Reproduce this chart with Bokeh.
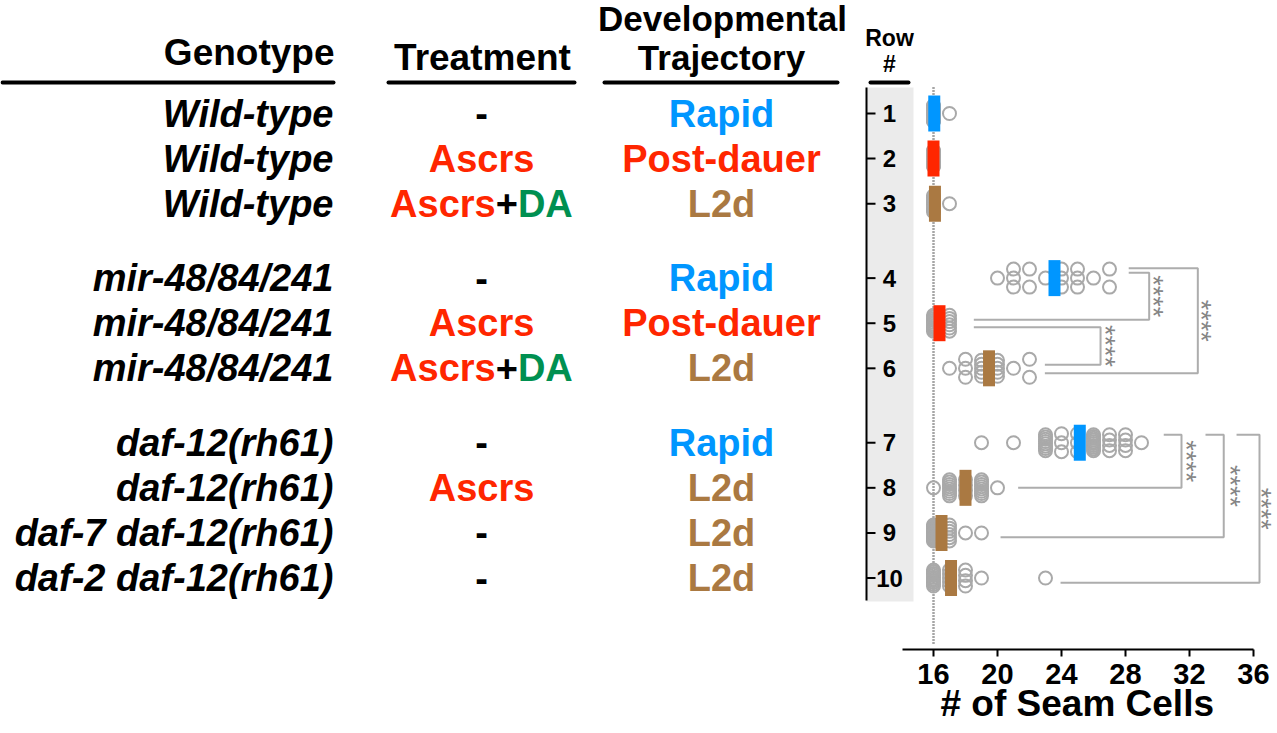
import numpy as np
from bokeh.plotting import figure
from bokeh.models import Range1d, FixedTicker, Title
from bokeh.core.properties import value
from bokeh.embed import file_html
from bokeh.resources import INLINE

# ---------------- data ----------------
genotypes = ["Wild-type", "Wild-type", "Wild-type",
             "mir-48/84/241", "mir-48/84/241", "mir-48/84/241",
             "daf-12(rh61)", "daf-12(rh61)", "daf-7 daf-12(rh61)", "daf-2 daf-12(rh61)"]
treatments = ["-", "Ascrs", "Ascrs+DA", "-", "Ascrs", "Ascrs+DA", "-", "Ascrs", "-", "-"]
trajectories = ["Rapid", "Post-dauer", "L2d", "Rapid", "Post-dauer", "L2d",
                "Rapid", "L2d", "L2d", "L2d"]
row_labels = ["1", "2", "3", "4", "5", "6", "7", "8", "9", "10"]
row_group = [0, 0, 0, 1, 1, 1, 2, 2, 2, 2]

seam_cells = [
    [16, 16, 16, 16, 16, 16, 16, 16, 16, 16, 16, 16, 16, 16, 16, 16, 16, 16, 16, 16, 17],
    [16, 16, 16, 16, 16, 16, 16, 16, 16, 16, 16, 16, 16, 16, 16, 16, 16, 16, 16, 16],
    [16, 16, 16, 16, 16, 16, 16, 16, 16, 16, 17],
    [20, 21, 21, 21, 22, 22, 23, 24, 24, 24, 25, 25, 25, 26, 27, 27],
    [16, 16, 16, 16, 16, 16, 16, 16, 16, 16, 17, 17, 17, 17, 17, 17],
    [17, 18, 18, 18, 19, 19, 19, 19, 19, 20, 20, 20, 20, 20, 21, 22, 22],
    [19, 21, 23, 23, 23, 23, 23, 23, 23, 23, 24, 24, 24, 25, 25, 25,
     26, 26, 26, 26, 26, 26, 26, 26, 26, 26, 27, 27, 27, 27, 28, 28, 28, 28, 29],
    [16, 17, 17, 17, 17, 17, 17, 17, 17, 18, 18, 18, 18, 19, 19, 19, 19, 19, 19, 19, 19, 20],
    [16, 16, 16, 16, 16, 16, 16, 16, 16, 16, 16, 16, 16, 16, 17, 17, 17, 17, 17, 17, 18, 19],
    [16, 16, 16, 16, 16, 16, 16, 16, 16, 16, 17, 17, 17, 17, 17, 18, 18, 18, 18, 19, 23],
]

comparisons = [(4, 5), (5, 6), (4, 6), (7, 8), (7, 9), (7, 10)]
significance = ["****", "****", "****", "****", "****", "****"]

x_ticks = [16, 20, 24, 28, 32, 36]
x_title = "# of Seam Cells"

# ---------------- styles / layout ----------------
FONT = "Liberation Sans"
traj_color = {"Rapid": "#0096FF", "Post-dauer": "#FF2600", "L2d": "#AA7942"}
RED, GREEN = "#FF2600", "#009051"
GRAY = "#A9A9A9"

W, H = 1275, 731
FRAME_B = 649                      # canvas y of the x axis
MB = H - FRAME_B
PX_PER_X = 16.0                    # px per seam cell
X16 = 933.0
X0 = 16 - X16 / PX_PER_X
X1 = 16 + (W - X16) / PX_PER_X
ROW1_Y = 113.0
PX = 45.1                          # px per row unit
Y_TOP = 1 - ROW1_Y / PX
Y_BOT = 1 + (FRAME_B - ROW1_Y) / PX
GROUP_GAP = 0.65

ypos = [i + 1 + GROUP_GAP * g for i, g in enumerate(row_group)]

p = figure(width=W, height=H, x_range=Range1d(X0, X1), y_range=Range1d(Y_BOT, Y_TOP),
           output_backend="svg", toolbar_location=None, y_axis_location=None,
           min_border_left=0, min_border_right=0, min_border_top=0, min_border_bottom=MB)
p.extra_x_ranges = {"page": Range1d(0, W)}
p.extra_y_ranges = {"page": Range1d(FRAME_B, 0)}
p.grid.visible = False
p.outline_line_color = None

# x axis
ax = p.xaxis[0]
ax.bounds = (16 - (933 - 902) / PX_PER_X, 36)
ax.ticker = FixedTicker(ticks=x_ticks)
ax.axis_line_width = 2
ax.axis_line_color = "black"
ax.major_tick_line_width = 2
ax.major_tick_line_color = "black"
ax.major_tick_out = 7
ax.major_tick_in = 0
ax.minor_tick_out = 0
ax.minor_tick_in = 0
ax.major_label_text_font = FONT
ax.major_label_text_font_size = "29px"
ax.major_label_text_font_style = "bold"
ax.major_label_text_color = "black"
ax.major_label_standoff = 7

# axis title, placed under the bounded axis
p.add_layout(Title(text=x_title, align="left", offset=940, standoff=-12,
                   text_font=FONT, text_font_size="37px", text_font_style="bold",
                   text_color="black"), "below")

# gray band behind row numbers
p.quad(left=[866], right=[913], top=[87], bottom=[601], fill_color="#EBEBEB",
       line_color=None, x_range_name="page", y_range_name="page")
# row axis
p.segment(x0=[866], x1=[866], y0=[87], y1=[600], line_color="black", line_width=2,
          x_range_name="page", y_range_name="page")
p.segment(x0=[866] * len(ypos), x1=[875] * len(ypos), y0=ypos, y1=ypos,
          line_color="black", line_width=2, x_range_name="page")
p.text(x=[889] * len(ypos), y=ypos, text=row_labels, text_font=value(FONT),
       text_font_size="24px", text_font_style="bold", text_align="center",
       text_baseline="middle", text_color="black", x_range_name="page")

# dotted reference line at 16
p.segment(x0=[16], x1=[16], y0=[87], y1=[645], line_color="#4D4D4D", line_width=2.5,
          line_dash="1 2", y_range_name="page")

# scatter (beeswarm)
sx, sy = [], []
for i, vals in enumerate(seam_cells):
    uniq, counts = np.unique(vals, return_counts=True)
    for v, n in zip(uniq, counts):
        h = 0 if n == 1 else (9 if n <= 3 else 8)
        offs = np.linspace(-h, h, n) if n > 1 else [0.0]
        for o in offs:
            sx.append(float(v))
            sy.append(ypos[i] + o / PX)
p.scatter(sx, sy, size=13, fill_color=None, line_color=GRAY, line_width=2)

# mean bars
means = [float(np.mean(v)) for v in seam_cells]
p.rect(x=means, y=ypos, width=12, height=36, width_units="screen", height_units="screen",
       fill_color=[traj_color[t] for t in trajectories], line_color=None)

# significance brackets (layout)
b_vert = [29.48, 26.44, 32.52, 31.5, 34.14, 36.375]
b_start_a = [28.2, 18.52, 28.2, 30.39, 33.0, 34.94]
b_start_b = [18.52, 22.96, 22.96, 21.29, 20.19, 23.94]
b_off_a = [-5.3, 4.0, -9.9, -7.9, -7.9, -7.9]
b_off_b = [-3.4, -3.5, 4.9, 0.0, 4.3, 4.8]
b_star = [30.1, 27.1, 33.1, 32.17, 34.9, 36.85]
bxs, bys, stx, sty = [], [], [], []
for k, (ra, rb) in enumerate(comparisons):
    ya = ypos[ra - 1] + b_off_a[k] / PX
    yb = ypos[rb - 1] + b_off_b[k] / PX
    bxs.append([b_start_a[k], b_vert[k], b_vert[k], b_start_b[k]])
    bys.append([ya, ya, yb, yb])
    stx.append(b_star[k])
    sty.append((ya + yb) / 2)
p.multi_line(bxs, bys, line_color="#ADADAD", line_width=2)
p.text(x=stx, y=sty, text=significance, angle=-np.pi / 2, x_offset=-6,
       text_font=value(FONT), text_font_size="27px", text_color="#858585",
       text_align="center", text_baseline="middle")

# ---------------- table text ----------------
p.text(x=[333] * len(ypos), y=ypos, text=genotypes, text_font=value(FONT),
       text_font_size="38px", text_font_style="bold italic", text_align="right",
       text_baseline="middle", text_color="black", x_range_name="page")

TREAT_X = 481
tr_simple = [(y, t) for y, t in zip(ypos, treatments) if "+" not in t]
p.text(x=[TREAT_X] * len(tr_simple), y=[y for y, _ in tr_simple],
       text=[t for _, t in tr_simple], text_font=value(FONT), text_font_size="38px",
       text_font_style="bold", text_align="center", text_baseline="middle",
       text_color=[RED if t != "-" else "black" for _, t in tr_simple], x_range_name="page")
for y, t in zip(ypos, treatments):
    if "+" in t:
        a, b = t.split("+")
        p.text(x=[495.2], y=[y], text=[a], text_font=value(FONT), text_font_size="38px",
               text_font_style="bold", text_align="right", text_baseline="middle",
               text_color=RED, x_range_name="page")
        p.text(x=[506.3], y=[y], text=["+"], text_font=value(FONT), text_font_size="38px",
               text_font_style="bold", text_align="center", text_baseline="middle",
               text_color="black", x_range_name="page")
        p.text(x=[517.4], y=[y], text=[b], text_font=value(FONT), text_font_size="38px",
               text_font_style="bold", text_align="left", text_baseline="middle",
               text_color=GREEN, x_range_name="page")

p.text(x=[721] * len(ypos), y=ypos, text=trajectories, text_font=value(FONT),
       text_font_size="38px", text_font_style="bold", text_align="center",
       text_baseline="middle", text_color=[traj_color[t] for t in trajectories],
       x_range_name="page")

# headers
hdr = dict(text_font=value(FONT), text_font_style="bold", text_baseline="middle",
           text_color="black", x_range_name="page", y_range_name="page")
p.text(x=[334], y=[52], text=["Genotype"], text_font_size="37px", text_align="right", **hdr)
p.text(x=[482], y=[56.5], text=["Treatment"], text_font_size="37px", text_align="center", **hdr)
p.text(x=[722], y=[18], text=["Developmental"], text_font_size="35px", text_align="center", **hdr)
p.text(x=[721], y=[56.5], text=["Trajectory"], text_font_size="35px", text_align="center", **hdr)
p.text(x=[889], y=[37], text=["Row"], text_font_size="23px", text_align="center", **hdr)
p.text(x=[889], y=[63], text=["#"], text_font_size="23px", text_align="center", **hdr)
p.segment(x0=[2, 388, 604, 870], x1=[333, 574, 837, 908], y0=[82] * 4, y1=[82] * 4,
          line_color="black", line_width=4, line_cap="round",
          x_range_name="page", y_range_name="page")

open("out.html", "w").write(file_html(p, INLINE))
